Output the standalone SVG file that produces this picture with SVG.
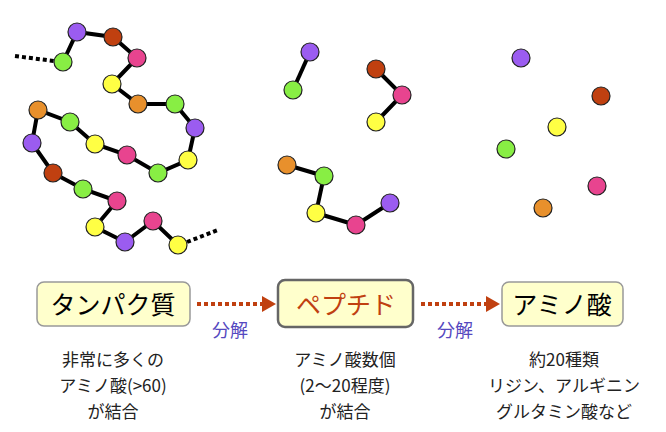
<svg xmlns="http://www.w3.org/2000/svg" width="666" height="432" viewBox="0 0 666 432">
<style>
.b{stroke:#000;stroke-width:4;fill:none}
.d{stroke:#000;stroke-width:4;stroke-dasharray:4 3;fill:none}
circle{stroke:#222;stroke-width:1.2}
.P{fill:#9b5cf0}.R{fill:#c04010}.K{fill:#e8448f}.Y{fill:#ffff44}.O{fill:#e8902c}.G{fill:#88ee44}
.box{fill:#ffffcc;stroke:#999;stroke-width:1.5}
.t{font-family:"Noto Sans CJK JP",sans-serif;text-anchor:middle}
.ar{stroke:#c04010;stroke-width:4;stroke-dasharray:4 3;fill:none}
</style>
<g id="connectors">
<polyline class="b" points="63,62 77,32 113,37 137,58 112,84 138,104 175,104 195,128 188,160 158,173 127,155 95,144 70,122 38,110 32,143 53,173 83,189 117,201 95,227 125,242 153,221 178,245"/>
<line class="d" x1="15" y1="56" x2="54" y2="61"/>
<line class="d" x1="187" y1="242" x2="218" y2="230"/>
<polyline class="b" points="310,52 293,90"/>
<polyline class="b" points="376,69 402,95 376,122"/>
<polyline class="b" points="287,165 324,176 316,213 356,225 390,203"/>
<line class="ar" x1="197" y1="304" x2="262" y2="304"/>
<polygon points="262,296 276,304 262,312" fill="#c04010"/>
<line class="ar" x1="421" y1="304" x2="486" y2="304"/>
<polygon points="486,296 500,304 486,312" fill="#c04010"/>
</g>
<g id="chain">
<circle class="G" cx="63" cy="62" r="9"/><circle class="P" cx="77" cy="32" r="9"/><circle class="R" cx="113" cy="37" r="9"/><circle class="K" cx="137" cy="58" r="9"/><circle class="Y" cx="112" cy="84" r="9"/><circle class="O" cx="138" cy="104" r="9"/><circle class="G" cx="175" cy="104" r="9"/><circle class="P" cx="195" cy="128" r="9"/><circle class="Y" cx="188" cy="160" r="9"/><circle class="G" cx="158" cy="173" r="9"/><circle class="K" cx="127" cy="155" r="9"/><circle class="Y" cx="95" cy="144" r="9"/><circle class="G" cx="70" cy="122" r="9"/><circle class="O" cx="38" cy="110" r="9"/><circle class="P" cx="32" cy="143" r="9"/><circle class="R" cx="53" cy="173" r="9"/><circle class="G" cx="83" cy="189" r="9"/><circle class="K" cx="117" cy="201" r="9"/><circle class="Y" cx="95" cy="227" r="9"/><circle class="P" cx="125" cy="242" r="9"/><circle class="K" cx="153" cy="221" r="9"/><circle class="Y" cx="178" cy="245" r="9"/>
</g>
<g id="peptides">
<circle class="P" cx="310" cy="52" r="9"/><circle class="G" cx="293" cy="90" r="9"/>
<circle class="R" cx="376" cy="69" r="9"/><circle class="K" cx="402" cy="95" r="9"/><circle class="Y" cx="376" cy="122" r="9"/>
<circle class="O" cx="287" cy="165" r="9"/><circle class="G" cx="324" cy="176" r="9"/><circle class="Y" cx="316" cy="213" r="9"/><circle class="K" cx="356" cy="225" r="9"/><circle class="P" cx="390" cy="203" r="9"/>
</g>
<g id="aminos">
<circle class="P" cx="521" cy="58" r="9"/><circle class="R" cx="601" cy="96" r="9"/><circle class="Y" cx="557" cy="127" r="9"/><circle class="G" cx="506" cy="149" r="9"/><circle class="K" cx="597" cy="186" r="9"/><circle class="O" cx="543" cy="208" r="9"/>
</g>
<g id="protein"><rect class="box" x="37" y="282" width="153" height="44" rx="7"/><text class="t" x="113" y="314" font-size="25">タンパク質</text></g>
<g id="peptide"><rect x="278" y="280" width="135" height="47" rx="7" fill="#ffffcc" stroke="#666" stroke-width="2.5"/><text class="t" x="346" y="314" font-size="25" fill="#c04010">ペプチド</text></g>
<g id="amino"><rect class="box" x="502" y="282" width="121" height="44" rx="7"/><text class="t" x="562" y="314" font-size="25">アミノ酸</text></g>
<g id="labels">
<text class="t" x="230" y="337" font-size="18" fill="#5548c0">分解</text>
<text class="t" x="455" y="337" font-size="18" fill="#5548c0">分解</text>
<g font-size="17" fill="#222">
<text class="t" x="113" y="366">非常に多くの</text><text class="t" x="113" y="392">アミノ酸(&gt;60)</text><text class="t" x="113" y="418">が結合</text>
<text class="t" x="345" y="366">アミノ酸数個</text><text class="t" x="345" y="392">(2～20程度)</text><text class="t" x="345" y="418">が結合</text>
<text class="t" x="564" y="366">約20種類</text><text class="t" x="564" y="392">リジン、アルギニン</text><text class="t" x="564" y="418">グルタミン酸など</text>
</g></g>
</svg>
